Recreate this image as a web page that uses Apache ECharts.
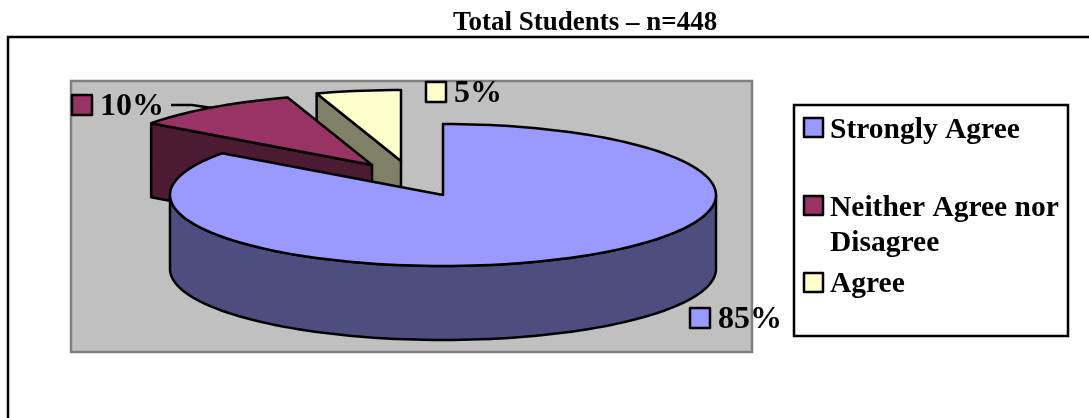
<!DOCTYPE html>
<html>
<head>
<meta charset="utf-8">
<style>
  html, body { margin: 0; padding: 0; background: #fff; }
  #chart { width: 1089px; height: 418px; }
</style>
<script src="https://cdn.jsdelivr.net/npm/echarts@6/dist/echarts.min.js"></script>
</head>
<body>
<div id="chart"></div>
<script>
const chartTitle = 'Total Students \u2013 n=448';
const categories = ['Strongly Agree', 'Neither Agree nor\nDisagree', 'Agree'];
const values = [85, 10, 5];
const topColors = ['#9999FF', '#993366', '#FFFFCC'];
const sideColors = ['#4D4D80', '#4D1A33', '#808066'];

// where each slice sits once pulled out of the pie
const sliceCenters = [[443, 195], [372, 165], [401, 161]];
const labelSpots = [[689, 318], [71, 105], [425, 92]];
const legendRows = [118, 196, 273];
const legendTextRows = [113, 191, 267];
const RX = 273, RY = 71, DEPTH = 74;
const FONT = '"Liberation Serif", "Times New Roman", serif';
const total = values.reduce((a, b) => a + b, 0);

function rimPoint(c, deg, drop) {
	const a = deg * Math.PI / 180;
	return [c[0] + RX * Math.sin(a), c[1] - RY * Math.cos(a) + (drop || 0)];
}

function arc(c, from, to, drop) {
	const pts = [];
	const steps = Math.max(2, Math.ceil(Math.abs(to - from) / 2));
	for (let i = 0; i <= steps; i++) {
		pts.push(rimPoint(c, from + (to - from) * i / steps, drop));
	}
	return pts;
}

const line = { stroke: '#000', lineWidth: 2.5, lineJoin: 'round' };

// the pie is drawn back to front so the big slice covers the others
const drawOrder = [2, 1, 0];

function renderSlice(params, api) {
	const i = drawOrder[params.dataIndex];
	let start = 0;
	for (let k = 0; k < i; k++) start += values[k];
	const from = start / total * 360;
	const to = (start + api.value(0)) / total * 360;
	const c = sliceCenters[i];
	const children = [];

	if (i === 0) {
		// front wall of the big slice, from the right side round to the left
		const lower = arc(c, 90, 270, DEPTH);
		const upper = arc(c, 270, 90, 0);
		children.push({
			type: 'polygon',
			shape: { points: lower.concat(upper) },
			style: Object.assign({ fill: sideColors[i] }, line),
		});
	} else {
		// cut wall on the left edge of the pulled out slices
		const rim = rimPoint(c, from);
		children.push({
			type: 'polygon',
			shape: { points: [rim, c, [c[0], c[1] + DEPTH], [rim[0], rim[1] + DEPTH]] },
			style: Object.assign({ fill: sideColors[i] }, line),
		});
	}
	if (i === 1) {
		children.push({
			type: 'polyline',
			shape: { points: [[171, 105], [192, 105], [212, 108]] },
			style: { stroke: '#000', lineWidth: 2.5, fill: null },
		});
	}
	children.push({
		type: 'polygon',
		shape: { points: [c].concat(arc(c, from, to, 0)) },
		style: Object.assign({ fill: topColors[i] }, line),
	});
	return { type: 'group', children: children };
}

function renderLabels(params) {
	const i = params.dataIndex;
	const p = labelSpots[i];
	return {
		type: 'group',
		children: [
			{
				type: 'rect',
				shape: { x: p[0] + 1, y: p[1] - 10, width: 20, height: 20 },
				style: Object.assign({ fill: topColors[i] }, line),
			},
			{
				type: 'text',
				style: {
					x: p[0] + 29, y: p[1] + 2,
					text: values[i] + '%',
					font: 'bold 32px ' + FONT,
					fill: '#000',
					verticalAlign: 'middle',
				},
			},
		],
	};
}

const pieData = values.map((v, i) => ({ value: v, name: categories[i] }));

const legendGraphics = [{
	type: 'rect',
	shape: { x: 794, y: 105, width: 274, height: 231 },
	style: { fill: '#fff', stroke: '#000', lineWidth: 2.5 },
}];
categories.forEach((name, i) => {
	legendGraphics.push({
		type: 'rect',
		shape: { x: 804, y: legendRows[i], width: 19, height: 19 },
		style: Object.assign({ fill: topColors[i] }, line),
	});
	legendGraphics.push({
		type: 'text',
		x: 830, y: legendTextRows[i],
		style: {
			text: name,
			font: 'bold 29.5px ' + FONT,
			lineHeight: 35,
			fill: '#000',
		},
	});
});

var myChart = echarts.init(document.getElementById('chart'), null, { renderer: 'canvas' });
var option = {
	backgroundColor: '#fff',
	animation: false,
	title: {
		text: chartTitle,
		left: 453,
		top: 10,
		padding: 0,
		textStyle: { fontFamily: FONT, fontWeight: 'bold', fontSize: 27, color: '#000' },
	},
	graphic: [
		{
			type: 'polyline',
			silent: true,
			z: -1,
			shape: { points: [[8, 418], [8, 37], [1089, 37]] },
			style: { stroke: '#000', lineWidth: 2.5, fill: null },
		},
		{
			type: 'rect',
			silent: true,
			z: -1,
			shape: { x: 71, y: 81, width: 681, height: 271 },
			style: { fill: '#C0C0C0', stroke: '#808080', lineWidth: 2.5 },
		},
		{ type: 'group', silent: true, z: 10, children: legendGraphics },
	],
	series: [
		{
			type: 'custom',
			coordinateSystem: 'none',
			z: 2,
			renderItem: renderSlice,
			data: drawOrder.map(i => pieData[i]),
		},
		{
			type: 'custom',
			coordinateSystem: 'none',
			z: 3,
			renderItem: renderLabels,
			data: pieData,
		},
	],
};
option && myChart.setOption(option);
</script>
</body>
</html>
